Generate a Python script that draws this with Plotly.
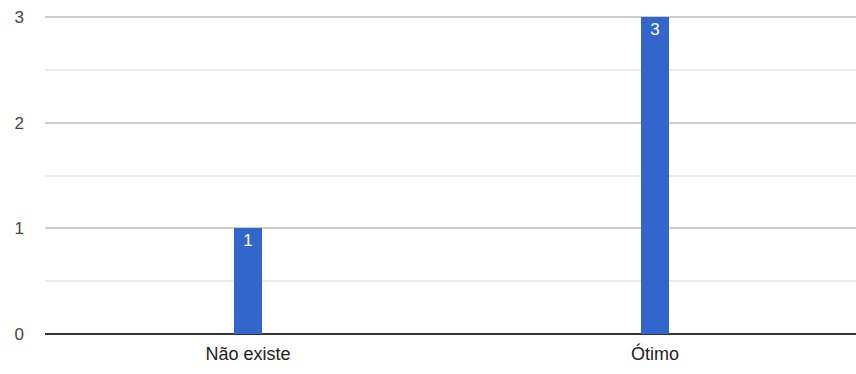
import plotly.graph_objects as go

categories = ["Não existe", "Ótimo"]
values = [1, 3]
y_ticks = [0, 1, 2, 3]

fig = go.Figure(go.Bar(
    x=categories, y=values,
    marker=dict(color="#3366CC", line=dict(width=0)),
    width=0.069,
    text=[str(v) for v in values],
    textposition="inside", insidetextanchor="end",
    textfont=dict(color="white", size=17, family="Liberation Sans, Arial"),
    constraintext="none",
    cliponaxis=False,
))

fig.update_layout(
    width=856, height=374,
    margin=dict(l=45, r=0, t=14, b=40),
    paper_bgcolor="white", plot_bgcolor="white",
    showlegend=False,
    font=dict(family="Liberation Sans, Arial", size=17, color="#444"),
    bargap=0,
    uniformtext=dict(minsize=17, mode="show"),
)
fig.update_xaxes(
    range=[-0.499, 1.494],
    showgrid=False, showline=False, ticks="",
    tickfont=dict(size=18, color="#222"),
    ticklabelstandoff=7,
)
fig.update_yaxes(
    range=[0, 3.03], tickvals=y_ticks,
    showgrid=True, gridcolor="#cccccc", gridwidth=1.5,
    minor=dict(dtick=0.5, showgrid=True, gridcolor="#ebebeb", gridwidth=1.5),
    zeroline=True, zerolinecolor="#333333", zerolinewidth=2,
    showline=False, ticks="",
    tickfont=dict(size=17, color="#444"),
    ticklabelstandoff=20,
)

fig.write_html(
    "out.html",
    config={"displayModeBar": False},
    post_script="document.body.style.margin='0';document.body.style.overflow='hidden';",
)
